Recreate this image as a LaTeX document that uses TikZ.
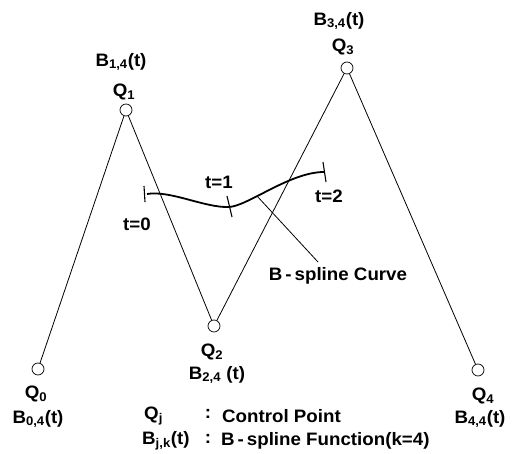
\documentclass[tikz,border=0pt]{standalone}
\usepackage{fontspec}
\setmainfont{Liberation Sans}[FakeStretch=1.04]
\usetikzlibrary{calc}
\tikzset{
  ctrlpt/.style={circle,draw,inner sep=0pt,minimum size=12pt,line width=0.7pt},
  polyline/.style={line width=0.8pt},
  curveline/.style={line width=1.8pt},
  tickline/.style={line width=1.1pt},
  lbl/.style={font=\bfseries\fontsize{18}{20}\selectfont,inner sep=1pt},
}

\begin{document}
\begin{tikzpicture}[x=1pt,y=-1pt]
  \useasboundingbox (0,0) rectangle (512,454);
  % control points
  \node[ctrlpt] (q0) at (38,369) {};
  \node[ctrlpt] (q1) at (126,110) {};
  \node[ctrlpt] (q2) at (214,326) {};
  \node[ctrlpt] (q3) at (347,68) {};
  \node[ctrlpt] (q4) at (478,370) {};

  \draw[polyline] (q0) -- (q1) -- (q2) -- (q3) -- (q4);

  % labels
  \node[lbl] (q1name) at (124,92) {Q\textsubscript{1}};
  \node[lbl] (b1name) at (121,62) {B\textsubscript{1,4}(t)};
  \node[lbl] (q3name) at (343,47) {Q\textsubscript{3}};
  \node[lbl] (b3name) at (339,21) {B\textsubscript{3,4}(t)};
  \node[lbl] (q0name) at (36,394) {Q\textsubscript{0}};
  \node[lbl] (b0name) at (38,419) {B\textsubscript{0,4}(t)};
  \node[lbl] (q2name) at (212,352) {Q\textsubscript{2}};
  \node[lbl] (b2name) at (217,375) {B\textsubscript{2,4} (t)};
  \node[lbl] (q4name) at (483,396) {Q\textsubscript{4}};
  \node[lbl] (b4name) at (480,419) {B\textsubscript{4,4}(t)};

  % the curve, t=0 .. t=2
  \coordinate (c0) at (147,194);
  \coordinate (c1) at (229,207);
  \coordinate (c2) at (324,172);
  \draw[curveline] (c0) .. controls (170,190) and (205,208) .. (c1)
                        .. controls (248,206) and (290,172) .. (c2);
  \draw[tickline] ($(c0)+(-3,-8)$) -- ($(c0)+(-2,8)$);
  \draw[tickline] ($(c1)+(-2,-11)$) -- ($(c1)+(3,10)$);
  \draw[tickline] ($(c2)+(-1,-10)$) -- ($(c2)+(2,10)$);
  \node[lbl] (t0) at (137,224) {t=0};
  \node[lbl] (t1) at (219,182) {t=1};
  \node[lbl] (t2) at (329,196) {t=2};

  \coordinate (cp) at (257,196);
  \node[lbl] (curvename) at (338,276) {B\,-\,spline Curve};
  \draw[polyline] (cp) -- (318,262);

  % legend
  \node[lbl,anchor=west] (qj) at (143,416) {Q\textsubscript{j}};
  \node[lbl,anchor=west] (bjk) at (141,441) {B\textsubscript{j,k}(t)};
  \node[lbl] (col1) at (208,414) {:};
  \node[lbl] (col2) at (208,439) {:};
  \node[lbl,anchor=west] (cpt) at (221,416) {Control Point};
  \node[lbl,anchor=west] (bfun) at (220,441) {B\,-\,spline Function(k=4)};
\end{tikzpicture}
\end{document}
